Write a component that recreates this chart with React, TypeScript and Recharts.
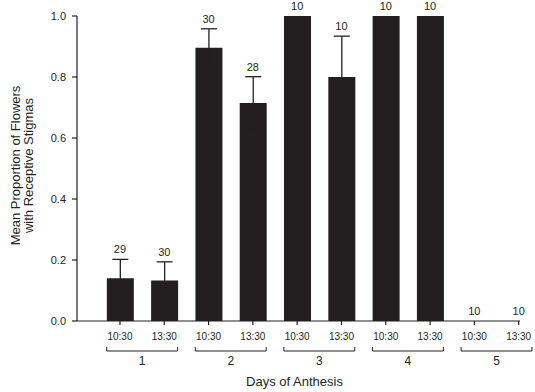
import { ComposedChart, Bar, ErrorBar, Line, LabelList, XAxis, YAxis } from 'recharts'

// values
const timeLabels = ['10:30', '13:30', '10:30', '13:30', '10:30', '13:30', '10:30', '13:30', '10:30', '13:30']
const dayLabels = ['1', '2', '3', '4', '5']
const means = [0.14, 0.133, 0.896, 0.715, 1.0, 0.80, 1.0, 1.0, 0, 0]
const errors = [0.062, 0.061, 0.062, 0.086, 0, 0.134, 0, 0, 0, 0]
const sampleSizes = [29, 30, 30, 28, 10, 10, 10, 10, 10, 10]
const yTicks = [0, 0.2, 0.4, 0.6, 0.8, 1.0]

const INK = '#231f20'
const FONT = '"Liberation Sans", Arial, Helvetica, sans-serif'
const WIDTH = 535
const HEIGHT = 392
const PLOT_LEFT = 77
const PLOT_RIGHT = 520
const X_DOMAIN: [number, number] = [-0.97, 9.03]
// px per category step, used only for the day brackets under the axis
const UNIT = (PLOT_RIGHT - PLOT_LEFT) / (X_DOMAIN[1] - X_DOMAIN[0])

// symmetric error; the lower half is hidden inside the dark bar
const data = means.map((m, i) => ({
  pos: i,
  mean: m,
  err: errors[i],
  top: m + errors[i],
  n: sampleSizes[i],
}))

const TimeTick = (props: any) => {
  const { x, y, payload } = props
  const i = payload.value as number
  const half = UNIT * 0.3
  return (
    <g>
      <text x={x} y={y + 13} textAnchor="middle" fontSize={10} fontFamily={FONT} fill={INK}>
        {timeLabels[i]}
      </text>
      {i % 2 === 1 && (
        <g>
          <path
            d={`M${x - UNIT - half},${y + 20} V${y + 24} H${x + half} V${y + 20}`}
            stroke={INK}
            strokeWidth={1}
            fill="none"
          />
          <text x={x - UNIT / 2} y={y + 38} textAnchor="middle" fontSize={12} fontFamily={FONT} fill={INK}>
            {dayLabels[(i - 1) / 2]}
          </text>
        </g>
      )}
    </g>
  )
}

const XTitle = (props: any) => {
  const { viewBox } = props
  const { x, y, width, height } = viewBox
  return (
    <text x={x + width / 2 - 4} y={y + height - 6} textAnchor="middle" fontSize={13} fontFamily={FONT} fill={INK}>
      Days of Anthesis
    </text>
  )
}

const YTitle = (props: any) => {
  const { viewBox } = props
  const cy = viewBox.y + viewBox.height / 2 - 3
  return (
    <text transform={`rotate(-90 0 ${cy})`} x={0} y={cy} textAnchor="middle" fontSize={13} fontFamily={FONT} fill={INK}>
      <tspan x={0} dy={20}>Mean Proportion of Flowers</tspan>
      <tspan x={0} dy={13}>with Receptive Stigmas</tspan>
    </text>
  )
}

export default function App() {
  return (
    <div style={{ width: WIDTH, height: HEIGHT, background: '#fff' }}>
      <style>{'body{margin:0}'}</style>
      <ComposedChart
        width={WIDTH}
        height={HEIGHT}
        data={data}
        margin={{ top: 16, right: WIDTH - PLOT_RIGHT, left: 0, bottom: 0 }}
      >
        <XAxis
          dataKey="pos"
          type="number"
          domain={X_DOMAIN}
          ticks={[0, 1, 2, 3, 4, 5, 6, 7, 8, 9]}
          height={71}
          tickSize={4}
          tickMargin={2}
          stroke={INK}
          strokeWidth={1.2}
          tick={<TimeTick />}
          interval={0}
          label={<XTitle />}
        />
        <YAxis
          domain={[0, 1]}
          ticks={yTicks}
          width={PLOT_LEFT}
          tickSize={5}
          tickMargin={6}
          stroke={INK}
          strokeWidth={1.2}
          tick={{ fontSize: 11, fontFamily: FONT, fill: INK }}
          tickFormatter={(v: number) => v.toFixed(1)}
          label={<YTitle />}
        />
        <Bar dataKey="mean" fill={INK} barSize={27} isAnimationActive={false}>
          <ErrorBar dataKey="err" direction="y" width={8} stroke={INK} strokeWidth={1.3} />
        </Bar>
        <Line dataKey="top" stroke="none" dot={false} activeDot={false} isAnimationActive={false} legendType="none">
          <LabelList
            dataKey="n"
            position="top"
            offset={6}
            fontSize={11}
            fontFamily={FONT}
            fill={INK}
          />
        </Line>
      </ComposedChart>
    </div>
  )
}
